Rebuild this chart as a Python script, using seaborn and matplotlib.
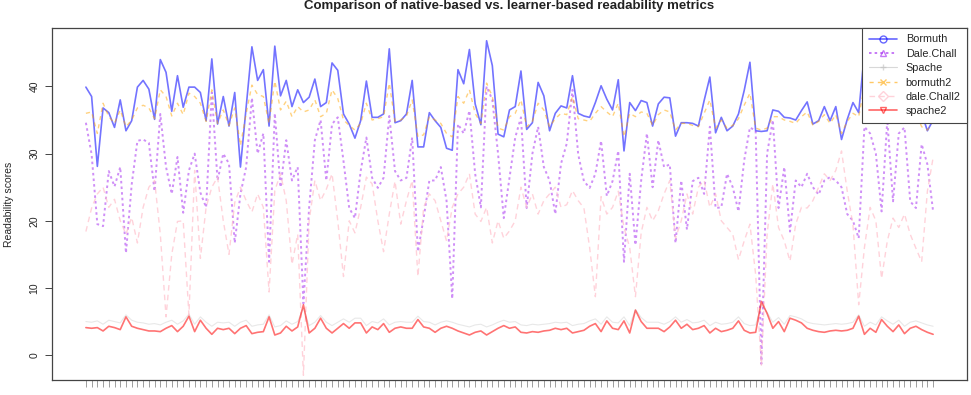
import numpy as np
import pandas as pd
import matplotlib
matplotlib.use('Agg')
import matplotlib.pyplot as plt
import seaborn as sns
from matplotlib.lines import Line2D

# readability scores per text
bormuth = [39.9, 38.5, 28.1, 36.8, 36.1, 33.9, 38.0, 33.4, 34.9, 39.9,
           40.9, 39.6, 35.1, 44.0, 42.1, 36.3, 41.6, 36.9, 39.9, 39.9,
           39.1, 34.9, 44.1, 34.4, 38.5, 34.1, 39.1, 28.0, 36.9, 45.9,
           40.9, 42.5, 34.1, 46.0, 38.6, 40.9, 37.0, 39.5, 37.6, 38.4,
           41.1, 37.0, 37.6, 43.5, 42.4, 35.9, 34.4, 32.3, 34.9, 40.8,
           35.4, 35.4, 35.9, 45.6, 34.6, 34.9, 35.9, 40.9, 31.0, 31.0,
           36.1, 34.9, 33.9, 30.8, 30.5, 42.5, 40.4, 45.5, 37.4, 34.3,
           46.8, 43.1, 32.9, 32.5, 36.5, 37.0, 42.3, 33.6, 34.6, 40.6,
           38.6, 33.4, 36.0, 37.1, 36.8, 41.6, 36.0, 35.6, 35.4, 37.6,
           40.1, 38.1, 36.5, 41.0, 30.4, 37.6, 36.4, 37.9, 37.6, 34.1,
           37.4, 38.4, 38.3, 32.6, 34.6, 34.6, 34.5, 34.1, 37.9, 41.4,
           33.1, 35.4, 33.4, 34.1, 35.9, 39.4, 43.6, 33.4, 33.3, 33.4,
           36.5, 36.3, 35.4, 35.3, 35.0, 36.4, 37.7, 34.4, 34.9, 37.0,
           34.9, 37.0, 32.1, 35.1, 37.6, 36.1, 45.0, 40.0, 38.0, 42.0,
           37.0, 39.0, 41.0, 37.0, 40.0, 38.0, 36.0, 33.4, 35.0]

dale_chall = [34.6, 29.9, 19.5, 19.2, 27.4, 25.1, 28.0, 15.2, 25.4, 31.9,
              32.1, 31.6, 24.4, 35.9, 28.0, 24.0, 29.5, 21.2, 27.5, 30.0,
              24.2, 22.0, 39.1, 26.0, 30.0, 28.5, 16.7, 24.0, 28.0, 38.3,
              30.0, 33.0, 13.9, 36.0, 25.0, 32.0, 26.0, 28.0, 7.7, 22.0,
              32.0, 35.0, 26.0, 34.4, 35.4, 28.9, 21.9, 20.4, 27.4, 32.4,
              26.4, 24.9, 26.4, 35.6, 27.4, 26.0, 26.4, 32.4, 15.4, 20.4,
              26.0, 26.0, 28.0, 23.0, 8.4, 34.4, 33.0, 36.4, 27.0, 22.0,
              40.0, 38.0, 30.0, 20.4, 26.4, 32.4, 35.4, 21.9, 30.0, 34.0,
              28.0, 26.0, 21.0, 28.5, 31.5, 39.5, 29.9, 25.9, 24.9, 27.0,
              31.9, 23.7, 25.9, 30.4, 13.9, 27.0, 16.4, 26.0, 33.0, 25.0,
              32.0, 28.0, 28.4, 16.7, 26.0, 18.7, 25.9, 26.4, 24.0, 34.0,
              21.9, 22.0, 27.0, 25.0, 21.4, 29.0, 33.9, 33.4, -1.3, 30.0,
              35.0, 21.9, 28.0, 18.4, 26.0, 25.0, 27.0, 25.0, 23.9, 26.0,
              26.5, 26.0, 25.0, 21.0, 20.0, 17.4, 34.0, 33.0, 30.0, 21.4,
              35.0, 22.9, 33.0, 33.9, 22.9, 21.9, 31.4, 28.4, 21.4]

spache = [5.0, 4.9, 5.1, 4.6, 5.2, 5.0, 4.8, 6.0, 5.2, 4.9,
          4.8, 4.6, 4.7, 4.5, 4.9, 5.2, 4.6, 5.1, 6.1, 4.6, 5.7, 4.9,
          4.3, 4.9, 4.8, 4.9, 4.3, 4.9, 5.2, 4.3, 4.5, 4.6, 6.0, 4.2,
          4.4, 5.1, 4.6, 5.0, 7.0, 4.4, 4.9, 5.9, 4.9, 4.4, 4.9, 5.4,
          4.9, 5.5, 5.5, 4.4, 5.0, 4.8, 5.4, 4.5, 4.9, 5.0, 4.9, 4.9,
          5.8, 5.0, 4.9, 4.5, 4.9, 5.1, 4.9, 4.6, 4.4, 4.2, 4.5, 4.6,
          4.2, 4.5, 4.9, 5.2, 4.9, 5.0, 4.5, 4.4, 4.6, 4.5, 4.6, 4.7,
          4.9, 4.8, 4.9, 4.4, 4.6, 4.7, 5.1, 5.4, 4.6, 5.7, 4.9, 4.8,
          5.7, 4.4, 6.8, 5.6, 4.9, 4.9, 4.9, 4.6, 5.0, 5.7, 4.9, 5.3,
          4.8, 4.9, 5.2, 4.4, 4.9, 4.6, 4.7, 4.9, 5.7, 4.7, 4.4, 4.5,
          7.5, 6.4, 4.9, 5.6, 4.6, 5.9, 5.7, 5.4, 4.9, 4.7, 4.6, 4.5,
          4.6, 4.7, 4.6, 4.7, 4.9, 6.0, 4.3, 4.9, 4.5, 5.7, 5.1, 4.6,
          5.2, 4.3, 4.9, 5.1, 4.8, 4.5, 4.3]

bormuth2 = [36.0, 36.2, 33.0, 37.5, 35.5, 34.5, 36.5, 34.0, 35.0, 36.8,
            37.2, 36.8, 35.2, 39.5, 38.5, 35.6, 37.5, 35.8, 39.0, 38.5,
            37.5, 34.8, 39.5, 34.5, 36.5, 34.2, 36.8, 31.2, 36.0, 40.2,
            38.8, 38.5, 34.5, 40.8, 36.5, 37.8, 35.5, 37.0, 36.2, 36.5,
            38.0, 35.5, 36.0, 39.5, 38.2, 35.0, 34.2, 33.5, 34.5, 37.5,
            35.0, 35.2, 35.5, 40.5, 34.8, 35.0, 35.6, 38.0, 32.5, 32.8,
            35.5, 35.0, 34.5, 33.0, 32.5, 38.5, 37.5, 39.5, 36.0, 34.5,
            40.5, 38.5, 33.8, 33.5, 35.5, 36.0, 38.0, 34.0, 34.8, 37.5,
            36.5, 34.0, 35.2, 36.0, 35.8, 38.5, 35.2, 35.0, 34.8, 36.0,
            37.0, 36.2, 35.5, 37.5, 32.5, 36.0, 35.5, 36.2, 36.0, 34.2,
            35.8, 36.5, 36.2, 33.5, 34.5, 34.5, 34.2, 34.0, 36.0, 38.0,
            33.8, 35.0, 33.8, 34.2, 35.2, 37.2, 39.0, 33.8, 33.5, 33.8,
            35.5, 35.5, 35.0, 34.8, 34.5, 35.5, 36.2, 34.2, 34.8, 35.8,
            34.5, 35.8, 33.0, 34.8, 36.0, 35.5, 40.0, 37.5, 36.5, 38.5,
            36.0, 37.0, 38.0, 36.0, 37.0, 36.0, 34.0, 33.5, 35.0]

dale_chall2 = [18.4, 21.9, 24.0, 25.0, 22.0, 23.2, 20.0, 18.0, 20.5, 16.7,
               22.0, 25.0, 26.0, 18.0, 5.7, 15.0, 19.9, 20.0, 6.0, 27.5,
               14.4, 22.0, 25.0, 26.5, 20.0, 15.0, 22.7, 25.0, 23.0, 21.3,
               24.0, 22.0, 9.4, 24.5, 27.0, 23.0, 13.5, 18.0, -3.0, 20.0,
               26.0, 23.0, 24.7, 27.0, 20.0, 11.7, 20.0, 18.2, 22.0, 26.5,
               25.5, 20.0, 15.4, 21.0, 25.9, 19.5, 23.0, 26.0, 11.7, 22.0,
               24.0, 23.0, 20.0, 17.0, 22.0, 24.0, 25.0, 27.0, 21.0, 19.9,
               22.0, 16.7, 20.0, 17.4, 18.5, 20.0, 25.0, 22.0, 24.0, 21.0,
               23.0, 24.0, 25.0, 22.0, 22.4, 24.5, 23.0, 21.9, 16.0, 8.7,
               23.6, 21.0, 22.0, 24.4, 19.0, 16.0, 8.7, 18.2, 22.0, 20.0,
               21.5, 24.0, 26.0, 17.4, 20.0, 24.0, 21.0, 25.0, 26.0, 22.0,
               24.0, 20.0, 19.0, 18.0, 14.2, 17.0, 19.5, 12.0, -1.5, 18.0,
               25.5, 19.0, 17.0, 14.0, 19.5, 22.0, 21.9, 23.0, 25.0, 27.0,
               26.0, 27.5, 30.4, 24.4, 19.4, 7.5, 16.0, 22.0, 20.0, 11.4,
               17.0, 20.4, 19.0, 21.0, 18.0, 15.9, 13.9, 24.4, 29.4]

spache2 = [4.1, 4.0, 4.1, 3.6, 4.3, 4.1, 3.8, 5.7, 4.3, 4.0,
           3.8, 3.6, 3.6, 3.5, 4.0, 4.4, 3.5, 4.3, 5.8, 3.5,
           5.2, 4.0, 3.1, 4.0, 3.8, 4.0, 3.2, 4.0, 4.4, 3.2,
           3.4, 3.5, 5.7, 3.0, 3.3, 4.3, 3.6, 4.2, 7.5, 3.3,
           4.0, 5.5, 4.0, 3.3, 4.0, 4.7, 4.0, 4.8, 4.8, 3.3,
           4.2, 3.8, 4.7, 3.4, 4.0, 4.2, 4.0, 4.0, 5.3, 4.2,
           4.0, 3.4, 4.0, 4.3, 4.0, 3.6, 3.3, 3.0, 3.4, 3.6,
           3.0, 3.5, 4.0, 4.4, 4.0, 4.2, 3.4, 3.3, 3.5, 3.4,
           3.6, 3.7, 4.0, 3.8, 4.0, 3.3, 3.5, 3.7, 4.3, 4.7,
           3.5, 5.1, 4.0, 3.8, 5.1, 3.3, 6.7, 5.0, 4.0, 4.0,
           4.0, 3.5, 4.2, 5.2, 4.0, 4.6, 3.8, 4.0, 4.4, 3.3,
           4.0, 3.5, 3.7, 4.0, 5.1, 3.7, 3.3, 3.4, 8.0, 6.2,
           4.0, 5.0, 3.5, 5.5, 5.2, 4.8, 4.0, 3.7, 3.5, 3.4,
           3.6, 3.7, 3.6, 3.7, 4.0, 5.8, 3.1, 4.0, 3.4, 5.3,
           4.3, 3.5, 4.5, 3.2, 4.0, 4.3, 3.8, 3.4, 3.1]

series_names = ['Bormuth', 'Dale.Chall', 'Spache', 'bormuth2', 'dale.Chall2', 'spache2']

df = pd.DataFrame({
    'Bormuth': bormuth, 'Dale.Chall': dale_chall, 'Spache': spache,
    'bormuth2': bormuth2, 'dale.Chall2': dale_chall2, 'spache2': spache2,
})
df['text'] = np.arange(len(df))

# colour, alpha, linestyle, linewidth, legend marker
styles = {
    'Bormuth':     ('#0000ff', 0.55, '-', 1.2, 'o'),
    'Dale.Chall':  ('#a020f0', 0.5, (0, (1.3, 1.6)), 1.4, '^'),
    'Spache':      ('#bebebe', 0.35, '-', 0.8, '+'),
    'bormuth2':    ('#ffa500', 0.5, (0, (3, 3)), 1.0, 'x'),
    'dale.Chall2': ('#ffc0cb', 0.7, (0, (4, 3)), 1.0, 'D'),
    'spache2':     ('#ff0000', 0.55, '-', 1.2, 'v'),
}

sns.set_style('white')
plt.rcParams['font.family'] = ['Liberation Sans', 'DejaVu Sans']

fig = plt.figure(figsize=(9.71, 3.95), dpi=100)
ax = fig.add_axes([52 / 971, 15 / 395, 915 / 971, 352 / 395])

for name in series_names:
    col, a, ls, lw, mk = styles[name]
    sns.lineplot(data=df, x='text', y=name, ax=ax, color=col, alpha=a,
                 linestyle=ls, linewidth=lw)

n = len(df)
ax.set_xlim(-0.04 * (n - 1), (n - 1) * 1.04)
ax.set_ylim(-3.7, 48.7)
ax.set_xticks(df['text'])
ax.set_xticklabels([])
ax.set_yticks([0, 10, 20, 30, 40])
ax.set_yticklabels(['0', '10', '20', '30', '40'], rotation=90, va='center', fontsize=7.5)
ax.tick_params(axis='y', length=5, width=0.7, color='#444444', pad=4, left=True)
ax.tick_params(axis='x', length=5, width=0.5, color='#777777', bottom=True)
ax.set_xlabel('')
ax.set_ylabel('Readability scores', fontsize=7.5, labelpad=11)
for sp in ax.spines.values():
    sp.set_color('#444444')
    sp.set_linewidth(0.9)

fig.text(509 / 971, 1.0, 'Comparison of native-based vs. learner-based readability metrics',
         ha='center', va='top', fontsize=9.5, fontweight='bold', color='#222222')

handles = []
for name in series_names:
    col, a, ls, lw, mk = styles[name]
    handles.append(Line2D([], [], color=col, alpha=max(a, 0.6), linestyle=ls, linewidth=lw,
                          marker=mk, markersize=5, markerfacecolor='none',
                          markeredgecolor=col, markeredgewidth=1.0))
leg = ax.legend(handles, series_names, loc='upper right', borderaxespad=0,
                fontsize=7.8, frameon=True, fancybox=False, framealpha=1,
                edgecolor='#444444', handlelength=2.6, labelspacing=0.4,
                borderpad=0.6, handletextpad=0.8)
leg.get_frame().set_linewidth(0.8)

fig.savefig('out.png', dpi=100)
